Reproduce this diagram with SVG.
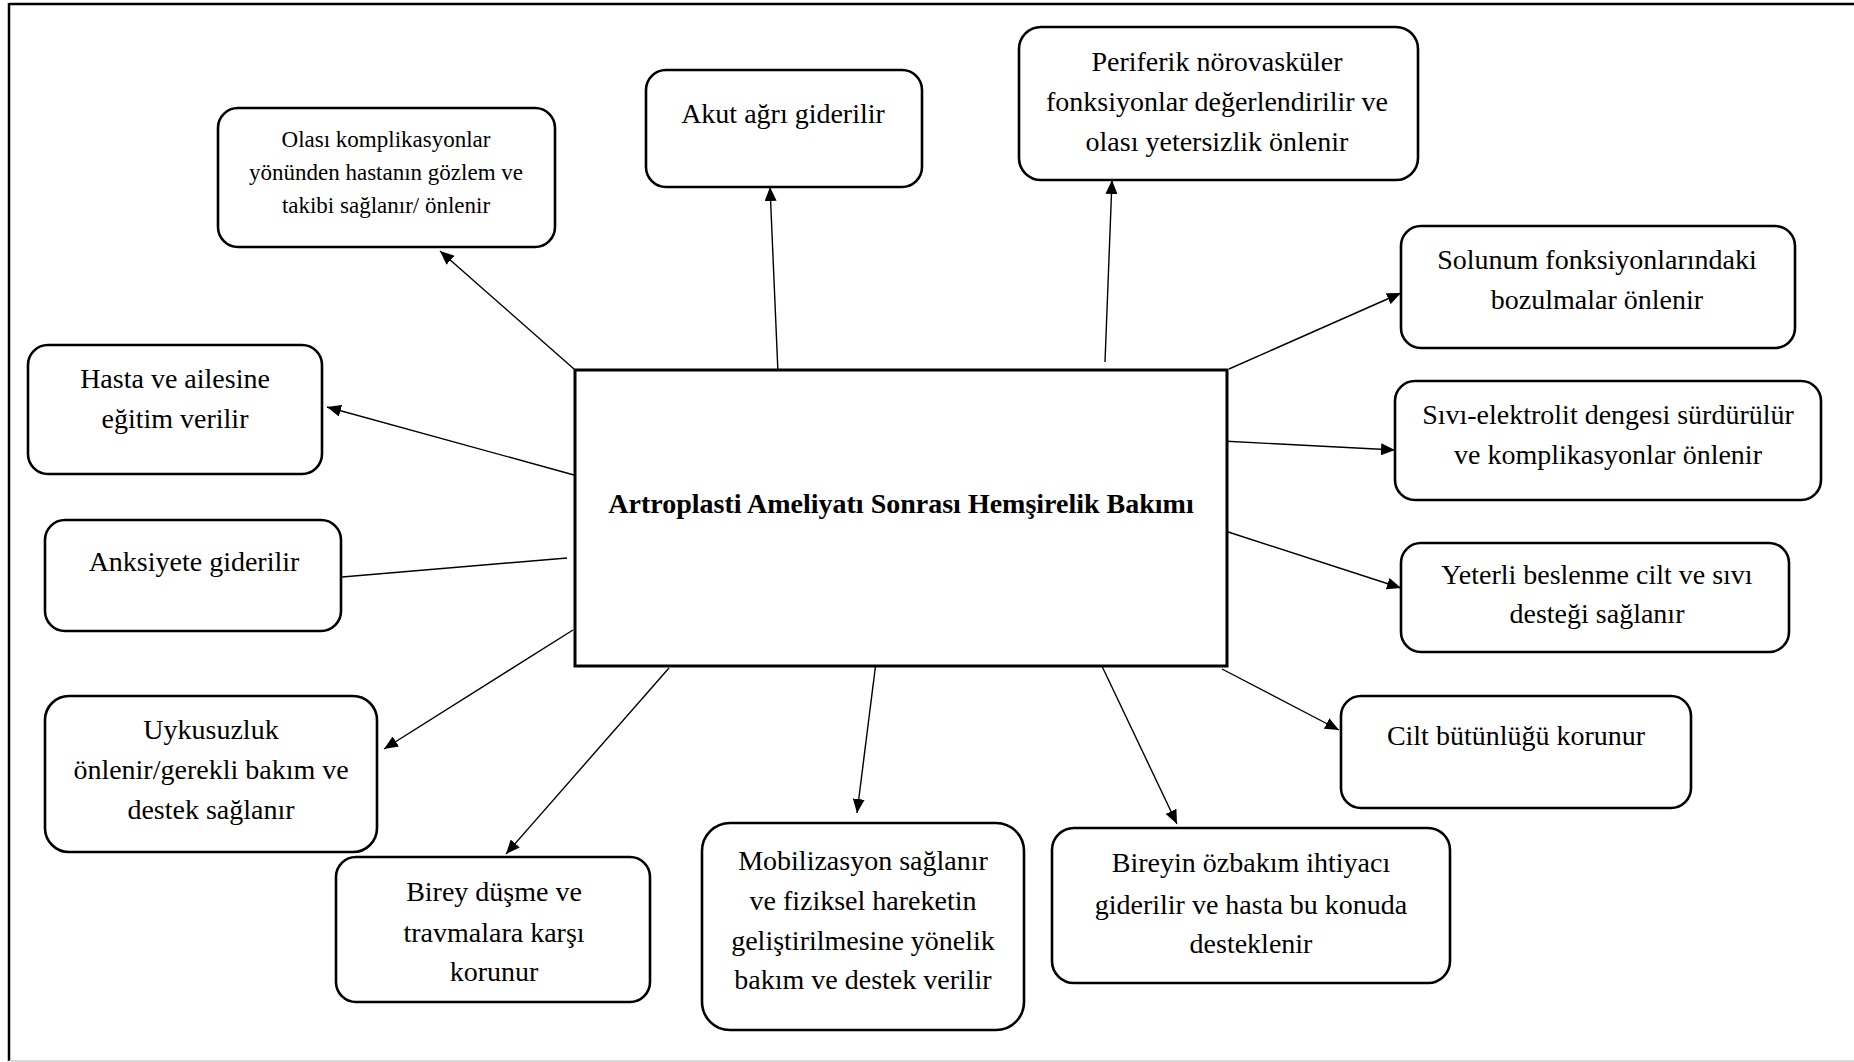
<svg xmlns="http://www.w3.org/2000/svg" width="1854" height="1062" viewBox="0 0 1854 1062">
  <style>
    .box { fill: #fff; stroke: #000; stroke-width: 2.6; }
    .hub { fill: #fff; stroke: #000; stroke-width: 3; }
    .t { font-family: "Liberation Serif", "Times New Roman", serif; font-size: 28px; fill: #000; text-anchor: middle; }
    .ts { font-size: 23px; }
    .tb { font-weight: bold; }
    .edge { fill: none; stroke: #000; stroke-width: 1.4; }
    .arr { marker-end: url(#ah); }
  </style>
  <defs>
    <marker id="ah" viewBox="0 0 14 12" refX="14" refY="6" markerWidth="14" markerHeight="12" markerUnits="userSpaceOnUse" orient="auto">
      <path d="M0,0 L14,6 L0,12 z" fill="#000"/>
    </marker>
  </defs>
  <rect width="1854" height="1062" fill="#fff"/>

  <!-- page frame -->
  <g id="frame">
    <line x1="9" y1="4" x2="1854" y2="4" stroke="#000" stroke-width="2.5"/>
    <line x1="9" y1="3" x2="9" y2="1061" stroke="#000" stroke-width="2.5"/>
    <line x1="9" y1="1061" x2="1854" y2="1061" stroke="#ccc" stroke-width="1.5"/>
  </g>

  <!-- connectors -->
  <g id="connectors">
    <line class="edge arr" x1="574" y1="369" x2="440" y2="251"/>
    <line class="edge arr" x1="778" y1="373" x2="770" y2="187"/>
    <line class="edge arr" x1="1105" y1="362" x2="1112" y2="180"/>
    <line class="edge arr" x1="1229" y1="369" x2="1401" y2="293"/>
    <line class="edge arr" x1="1222" y1="441" x2="1395" y2="450"/>
    <line class="edge arr" x1="1219" y1="529" x2="1401" y2="588"/>
    <line class="edge arr" x1="1222" y1="669" x2="1339" y2="730"/>
    <line class="edge arr" x1="1100" y1="662" x2="1177" y2="824"/>
    <line class="edge arr" x1="876" y1="662" x2="857" y2="813"/>
    <line class="edge arr" x1="669" y1="668" x2="506" y2="854"/>
    <line class="edge arr" x1="573" y1="630" x2="384" y2="749"/>
    <line class="edge" x1="567" y1="558" x2="342" y2="577"/>
    <line class="edge arr" x1="574" y1="475" x2="327" y2="407"/>
  </g>

  <!-- central node -->
  <g id="hub">
    <rect class="hub" x="575" y="370" width="652" height="296"/>
    <text class="t tb" x="901" y="513">Artroplasti Ameliyatı Sonrası Hemşirelik Bakımı</text>
  </g>

  <g id="n-olasi">
    <rect class="box" x="218" y="108" width="337" height="139" rx="20"/>
    <text class="t ts" x="386" y="147">Olası komplikasyonlar</text>
    <text class="t ts" x="386" y="180">yönünden hastanın gözlem ve</text>
    <text class="t ts" x="386" y="213">takibi sağlanır/ önlenir</text>
  </g>

  <g id="n-akut">
    <rect class="box" x="646" y="70" width="276" height="117" rx="20"/>
    <text class="t" x="783" y="123">Akut ağrı giderilir</text>
  </g>

  <g id="n-periferik">
    <rect class="box" x="1019" y="27" width="399" height="153" rx="22"/>
    <text class="t" x="1217" y="71">Periferik nörovasküler</text>
    <text class="t" x="1217" y="111">fonksiyonlar değerlendirilir ve</text>
    <text class="t" x="1217" y="151">olası yetersizlik önlenir</text>
  </g>

  <g id="n-solunum">
    <rect class="box" x="1401" y="226" width="394" height="122" rx="20"/>
    <text class="t" x="1597" y="269">Solunum fonksiyonlarındaki</text>
    <text class="t" x="1597" y="309">bozulmalar önlenir</text>
  </g>

  <g id="n-sivi">
    <rect class="box" x="1395" y="381" width="426" height="119" rx="20"/>
    <text class="t" x="1608" y="424">Sıvı-elektrolit dengesi sürdürülür</text>
    <text class="t" x="1608" y="464">ve komplikasyonlar önlenir</text>
  </g>

  <g id="n-beslenme">
    <rect class="box" x="1401" y="543" width="388" height="109" rx="20"/>
    <text class="t" x="1597" y="584">Yeterli beslenme cilt ve sıvı</text>
    <text class="t" x="1597" y="623">desteği sağlanır</text>
  </g>

  <g id="n-cilt">
    <rect class="box" x="1341" y="696" width="350" height="112" rx="20"/>
    <text class="t" x="1516" y="745">Cilt bütünlüğü korunur</text>
  </g>

  <g id="n-ozbakim">
    <rect class="box" x="1052" y="828" width="398" height="155" rx="22"/>
    <text class="t" x="1251" y="872">Bireyin özbakım ihtiyacı</text>
    <text class="t" x="1251" y="914">giderilir ve hasta bu konuda</text>
    <text class="t" x="1251" y="953">desteklenir</text>
  </g>

  <g id="n-mobilizasyon">
    <rect class="box" x="702" y="823" width="322" height="207" rx="28"/>
    <text class="t" x="863" y="870">Mobilizasyon sağlanır</text>
    <text class="t" x="863" y="910">ve fiziksel hareketin</text>
    <text class="t" x="863" y="950">geliştirilmesine yönelik</text>
    <text class="t" x="863" y="989">bakım ve destek verilir</text>
  </g>

  <g id="n-dusme">
    <rect class="box" x="336" y="857" width="314" height="145" rx="20"/>
    <text class="t" x="494" y="901">Birey düşme ve</text>
    <text class="t" x="494" y="942">travmalara karşı</text>
    <text class="t" x="494" y="981">korunur</text>
  </g>

  <g id="n-uykusuzluk">
    <rect class="box" x="45" y="696" width="332" height="156" rx="24"/>
    <text class="t" x="211" y="739">Uykusuzluk</text>
    <text class="t" x="211" y="779">önlenir/gerekli bakım ve</text>
    <text class="t" x="211" y="819">destek sağlanır</text>
  </g>

  <g id="n-anksiyete">
    <rect class="box" x="45" y="520" width="296" height="111" rx="20"/>
    <text class="t" x="194" y="571">Anksiyete giderilir</text>
  </g>

  <g id="n-egitim">
    <rect class="box" x="28" y="345" width="294" height="129" rx="20"/>
    <text class="t" x="175" y="388">Hasta ve ailesine</text>
    <text class="t" x="175" y="428">eğitim verilir</text>
  </g>
</svg>
